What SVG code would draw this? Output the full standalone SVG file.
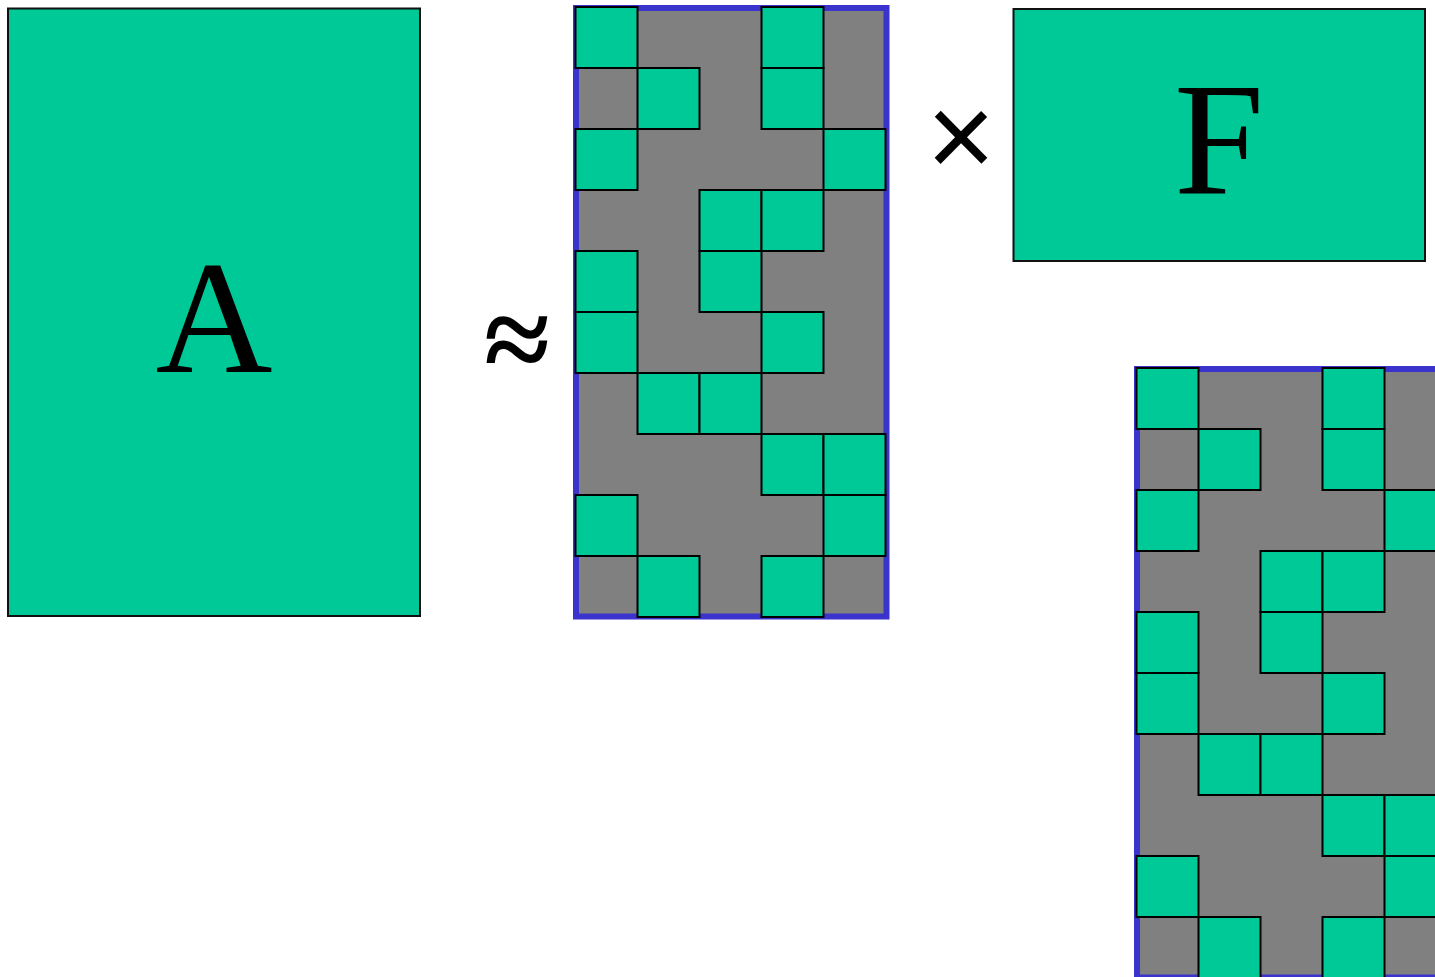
<svg xmlns="http://www.w3.org/2000/svg" width="1435" height="977" viewBox="0 0 1435 977">
<defs>
<style>
.g{fill:#00c998;stroke:#000;stroke-width:2}
.bg{fill:#808080;stroke:#3a33cc;stroke-width:6}
</style>
<g id="mask">
<rect class="bg" x="576" y="8" width="310.5" height="608.5"/>
<rect class="g" x="575.5" y="7" width="62" height="61"/>
<rect class="g" x="761.5" y="7" width="62" height="61"/>
<rect class="g" x="637.5" y="68" width="62" height="61"/>
<rect class="g" x="761.5" y="68" width="62" height="61"/>
<rect class="g" x="575.5" y="129" width="62" height="61"/>
<rect class="g" x="823.5" y="129" width="62" height="61"/>
<rect class="g" x="699.5" y="190" width="62" height="61"/>
<rect class="g" x="761.5" y="190" width="62" height="61"/>
<rect class="g" x="575.5" y="251" width="62" height="61"/>
<rect class="g" x="699.5" y="251" width="62" height="61"/>
<rect class="g" x="575.5" y="312" width="62" height="61"/>
<rect class="g" x="761.5" y="312" width="62" height="61"/>
<rect class="g" x="637.5" y="373" width="62" height="61"/>
<rect class="g" x="699.5" y="373" width="62" height="61"/>
<rect class="g" x="761.5" y="434" width="62" height="61"/>
<rect class="g" x="823.5" y="434" width="62" height="61"/>
<rect class="g" x="575.5" y="495" width="62" height="61"/>
<rect class="g" x="823.5" y="495" width="62" height="61"/>
<rect class="g" x="637.5" y="556" width="62" height="61"/>
<rect class="g" x="761.5" y="556" width="62" height="61"/>
</g>
</defs>
<g id="A">
<rect x="8" y="8.5" width="412" height="607.5" fill="#00c998" stroke="#111" stroke-width="2"/>
<text x="214" y="372" font-family="'Liberation Serif', 'Times New Roman', Times, serif" font-size="162" text-anchor="middle" fill="#000">A</text>
</g>
<g id="approx">
<text x="517" y="380" font-family="'Liberation Serif', 'Times New Roman', Times, serif" font-size="120" font-weight="bold" text-anchor="middle" fill="#000">≈</text>
</g>
<g id="W">
<use href="#mask"/>
</g>
<g id="times">
<text x="961" y="177" font-family="'Liberation Sans', Arial, sans-serif" font-size="118" text-anchor="middle" fill="#000">×</text>
</g>
<g id="F">
<rect x="1013.5" y="9" width="411.5" height="252" fill="#00c998" stroke="#111" stroke-width="2"/>
<text x="1219" y="194" font-family="'Liberation Serif', 'Times New Roman', Times, serif" font-size="162" text-anchor="middle" fill="#000">F</text>
</g>
<g id="W2">
<use href="#mask" x="561" y="361"/>
</g>
</svg>
